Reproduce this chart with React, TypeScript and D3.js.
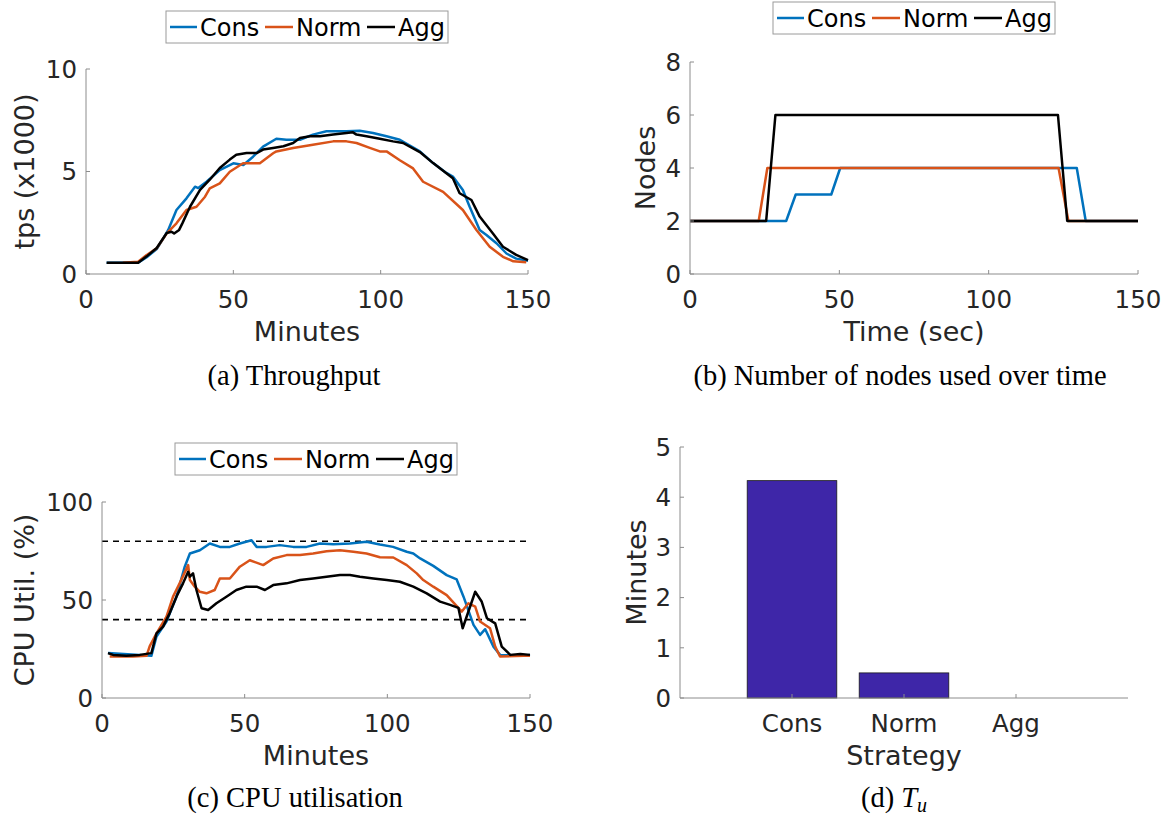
import React from 'react';
import * as d3 from 'd3';

const strategies = ['Cons', 'Norm', 'Agg'];
const colors = ['#0072BD', '#D95319', '#000000'];

// (a) throughput, tps x1000 vs minutes
const tpsCons = [[7,0.55],[17.7,0.55],[20.6,0.82],[24,1.22],[26.5,1.8],[27.9,2.15],[30.7,3.12],[34.1,3.69],[37,4.26],[38.1,4.19],[40.9,4.5],[45.4,5.07],[50,5.4],[53.4,5.32],[56.7,5.72],[60.1,6.21],[64.6,6.6],[68,6.55],[72.6,6.55],[77,6.8],[81.6,6.96],[88.4,6.96],[92.9,6.99],[97.4,6.88],[102,6.72],[106.5,6.55],[113.3,5.98],[117.8,5.41],[122.3,4.93],[124.5,4.75],[127.9,4.1],[130.2,3.28],[133.6,2.15],[135.9,1.9],[139.3,1.5],[142.7,1.0],[146,0.75],[150,0.65]];
const tpsNorm = [[12.5,0.55],[17.7,0.6],[20.6,0.93],[24,1.25],[27.4,1.98],[30.7,2.47],[34.1,3.12],[37.5,3.28],[40.4,3.77],[42,4.18],[45.4,4.42],[48.8,4.99],[53.3,5.4],[59,5.4],[63.5,5.89],[64.6,5.98],[70.3,6.15],[77,6.31],[83.9,6.47],[88.4,6.47],[91.8,6.39],[96.3,6.15],[99.7,5.98],[102,5.98],[106.5,5.55],[111,5.15],[114.4,4.5],[121.2,4.01],[127.9,3.12],[132.5,2.15],[137,1.33],[141.5,0.84],[145,0.62],[149.4,0.57]];
const tpsAgg = [[7,0.55],[17.7,0.55],[20.6,0.86],[24,1.27],[27.4,2.0],[29,2.06],[29.9,1.98],[31.6,2.15],[32.7,2.47],[35.3,3.28],[38.7,4.1],[42,4.6],[45.4,5.17],[48.8,5.58],[51,5.82],[54.5,5.9],[57.9,5.9],[60.1,6.07],[63.5,6.15],[67,6.23],[70.3,6.39],[72.6,6.63],[76,6.72],[79.4,6.72],[83.9,6.8],[88.4,6.88],[90.6,6.91],[91.8,6.8],[95.2,6.72],[99.7,6.6],[104.2,6.47],[107.6,6.39],[113.3,5.95],[117.8,5.41],[122.3,4.92],[124.5,4.67],[126.8,3.94],[130.8,3.61],[133.6,2.8],[138.1,1.98],[141.5,1.33],[146,0.93],[150,0.68]];

// (b) nodes vs time
const nodesCons = [[0,2],[32.2,2],[35.4,3],[47.3,3],[50.3,4],[129.5,4],[132.5,2],[150,2]];
const nodesNorm = [[0,2],[23,2],[25.9,4],[123.4,4],[126.7,2],[150,2]];
const nodesAgg = [[0,2],[25.5,2],[28.6,6],[123.2,6],[126.3,2],[150,2]];

// (c) cpu utilisation %
const cpuCons = [[2.1,22.9],[17.3,21.5],[19.1,31.4],[22.6,39],[26.1,51.7],[29,67],[30.8,73.7],[34.3,75.4],[37.8,78.8],[41.3,77.1],[44.8,77.1],[48.3,78.8],[52.4,80.5],[54.2,77.1],[57.7,77.1],[62.3,78],[67,77.1],[71.7,77.1],[76.4,78.8],[81,78.5],[86.9,78.8],[92.7,79.7],[97.4,78.3],[102,77.1],[106.8,74.6],[109.1,73.7],[111.5,71.2],[116.1,67.4],[120.8,62.7],[124.3,60.5],[126.7,51.7],[130.2,37.3],[132.5,32.2],[134.3,35.1],[137.2,26.2],[139.5,22],[147.2,21.5],[150,22]];
const cpuNorm = [[2.7,21.2],[10.9,21.2],[15.6,21.5],[16.7,26.3],[19.1,33],[22.6,41.5],[24.9,51.7],[27.2,58.5],[30.2,67.8],[30.8,60.2],[32.5,56.8],[34.3,54.2],[36.6,53.4],[39.5,55.1],[41.3,61],[44.8,61],[48.3,67],[51.8,70.3],[56.5,67.8],[60,71.2],[64.7,72.9],[69.4,72.9],[74,73.7],[78.7,74.9],[83.4,75.4],[88.1,74.6],[92.7,73.7],[97.4,71.8],[102.1,71.7],[106.8,67.8],[110.3,63.6],[112.6,60.2],[116.1,56.8],[120.8,52.5],[126.1,44.1],[128.4,48.3],[130.8,46.6],[132.5,39],[136,35.6],[137.8,26.2],[139.5,21.2],[147.7,21.5],[150,21.5]];
const cpuAgg = [[2.1,22.9],[3.9,22],[8.5,21.5],[13.2,22],[17.3,22.9],[17.9,26.3],[19.1,33],[21.4,36.4],[23.7,43.2],[26.1,51.7],[28.4,58.5],[30.2,64.4],[30.8,61.9],[31.9,63.6],[33.1,55.1],[34.9,45.8],[37.2,44.9],[40.1,48.3],[43.6,51.7],[47.1,55.1],[50.6,56.8],[54.2,56.8],[57.1,55.1],[60,57.6],[64.7,58.5],[69.4,60.2],[74,61],[78.7,61.9],[83.4,62.7],[86.9,62.7],[90.4,61.9],[95.1,61],[99.8,60.2],[104.4,59.3],[109.1,56.8],[113.8,53.4],[118.5,49.2],[122,47.5],[124.9,46],[126.4,35.6],[130.8,54.2],[133.1,49.1],[134.9,40.7],[137.8,38.1],[140.1,26.2],[143.1,22],[146.6,22.5],[150,22]];
const cpuThresholds = [80, 40];

// (d) T_u in minutes
const tuValues = [4.33, 0.5, 0];

const SANS = 'DejaVu Sans, sans-serif';
const SERIF = 'Liberation Serif, DejaVu Serif, serif';
const AXIS = '#8c8c8c';
const TEXT = '#262626';
const TICK_FS = 24.5;
const LABEL_FS = 27;
const CAP_FS = 28.5;
const LW = 2.5;

function Legend({ cx, y }) {
    const lines = [[-137, -110], [-42, -14], [60, 88]];
    const texts = [-107, -11, 91];
    return (
        <g transform={`translate(${cx}, ${y})`}>
            <rect x={-141} y={0} width={282} height={32} fill="white" stroke="#9a9a9a" strokeWidth="1" />
            {strategies.map((s, i) => (
                <g key={s}>
                    <line x1={lines[i][0]} x2={lines[i][1]} y1={16} y2={16} stroke={colors[i]} strokeWidth={LW} />
                    <text x={texts[i]} y={25} fontFamily={SANS} fontSize="24" fill="#000">{s}</text>
                </g>
            ))}
        </g>
    );
}

function LinePanel(props) {
    const { left, right, top, bottom, xMax, yMax, xTicks, yTicks, series, xLabel, yLabel, yLabelX, legendY, dashed } = props;
    const x = d3.scaleLinear().domain([0, xMax]).range([left, right]);
    const y = d3.scaleLinear().domain([0, yMax]).range([bottom, top]);
    const line = d3.line().x(d => x(d[0])).y(d => y(d[1]));

    return (
        <g>
            {(dashed || []).map(v => (
                <line key={v} x1={left} x2={right} y1={y(v)} y2={y(v)} stroke="#000" strokeWidth="1.6" strokeDasharray="6,5" />
            ))}
            {series.map((s, i) => (
                <path key={i} d={line(s)} fill="none" stroke={colors[i]} strokeWidth={LW} strokeLinejoin="round" />
            ))}
            <line x1={left} x2={left} y1={top} y2={bottom} stroke={AXIS} strokeWidth="1" />
            <line x1={left} x2={right} y1={bottom} y2={bottom} stroke={AXIS} strokeWidth="1" />
            {yTicks.map(t => (
                <g key={t}>
                    <line x1={left} x2={left + 4} y1={y(t)} y2={y(t)} stroke={AXIS} />
                    <text x={left - 9} y={y(t)} dy="0.36em" textAnchor="end" fontFamily={SANS} fontSize={TICK_FS} fill={TEXT}>{t}</text>
                </g>
            ))}
            {xTicks.map(t => (
                <g key={t}>
                    <line x1={x(t)} x2={x(t)} y1={bottom} y2={bottom - 4} stroke={AXIS} />
                    <text x={x(t)} y={bottom + 34} textAnchor="middle" fontFamily={SANS} fontSize={TICK_FS} fill={TEXT}>{t}</text>
                </g>
            ))}
            <text x={(left + right) / 2} y={bottom + 67} textAnchor="middle" fontFamily={SANS} fontSize={LABEL_FS} fill={TEXT}>{xLabel}</text>
            <text transform={`translate(${yLabelX}, ${(top + bottom) / 2}) rotate(-90)`} textAnchor="middle" fontFamily={SANS} fontSize={LABEL_FS} fill={TEXT}>{yLabel}</text>
            <Legend cx={(left + right) / 2} y={legendY} />
        </g>
    );
}

function BarPanel() {
    const left = 680, right = 1128, top = 447, bottom = 698;
    const x = d3.scaleLinear().domain([0, 4]).range([left, right]);
    const y = d3.scaleLinear().domain([0, 5]).range([bottom, top]);
    const bw = x(0.8) - x(0);
    return (
        <g>
            {tuValues.map((v, i) => (
                <rect key={i} x={x(i + 1) - bw / 2} y={y(v)} width={bw} height={bottom - y(v)}
                    fill="#3E26A8" stroke="#1a1a1a" strokeWidth="0.8" />
            ))}
            <line x1={left} x2={left} y1={top} y2={bottom} stroke={AXIS} />
            <line x1={left} x2={right} y1={bottom} y2={bottom} stroke={AXIS} />
            {y.ticks(5).map(t => (
                <g key={t}>
                    <line x1={left} x2={left + 4} y1={y(t)} y2={y(t)} stroke={AXIS} />
                    <text x={left - 9} y={y(t)} dy="0.36em" textAnchor="end" fontFamily={SANS} fontSize={TICK_FS} fill={TEXT}>{t}</text>
                </g>
            ))}
            {strategies.map((s, i) => (
                <g key={s}>
                    <line x1={x(i + 1)} x2={x(i + 1)} y1={bottom} y2={bottom - 4} stroke={AXIS} />
                    <text x={x(i + 1)} y={bottom + 34} textAnchor="middle" fontFamily={SANS} fontSize={TICK_FS} fill={TEXT}>{s}</text>
                </g>
            ))}
            <text x={(left + right) / 2} y={bottom + 67} textAnchor="middle" fontFamily={SANS} fontSize={LABEL_FS} fill={TEXT}>Strategy</text>
            <text transform={`translate(646, ${(top + bottom) / 2}) rotate(-90)`} textAnchor="middle" fontFamily={SANS} fontSize={LABEL_FS} fill={TEXT}>Minutes</text>
        </g>
    );
}

export default function App() {
    return (
        <svg width={1172} height={818} style={{ position: 'absolute', left: 0, top: 0, background: 'white' }}>
            <LinePanel left={86} right={528} top={69} bottom={274} xMax={150} yMax={10}
                xTicks={[0, 50, 100, 150]} yTicks={[0, 5, 10]} series={[tpsCons, tpsNorm, tpsAgg]}
                xLabel="Minutes" yLabel="tps (x1000)" yLabelX={34} legendY={11} />
            <LinePanel left={690} right={1138} top={62} bottom={274} xMax={150} yMax={8}
                xTicks={[0, 50, 100, 150]} yTicks={[0, 2, 4, 6, 8]} series={[nodesCons, nodesNorm, nodesAgg]}
                xLabel="Time (sec)" yLabel="Nodes" yLabelX={655} legendY={2} />
            <LinePanel left={102} right={530} top={502} bottom={698} xMax={150} yMax={100}
                xTicks={[0, 50, 100, 150]} yTicks={[0, 50, 100]} series={[cpuCons, cpuNorm, cpuAgg]}
                xLabel="Minutes" yLabel="CPU Util. (%)" yLabelX={34} legendY={443} dashed={cpuThresholds} />
            <BarPanel />
            <text x={294} y={385} textAnchor="middle" fontFamily={SERIF} fontSize={CAP_FS} fill="#000">(a) Throughput</text>
            <text x={900} y={385} textAnchor="middle" fontFamily={SERIF} fontSize={CAP_FS} fill="#000">(b) Number of nodes used over time</text>
            <text x={295} y={807} textAnchor="middle" fontFamily={SERIF} fontSize={CAP_FS} fill="#000">(c) CPU utilisation</text>
            <text x={894} y={807} textAnchor="middle" fontFamily={SERIF} fontSize={CAP_FS} fill="#000">
                (d) <tspan fontStyle="italic">T</tspan><tspan fontStyle="italic" fontSize="20" dy="5">u</tspan>
            </text>
        </svg>
    );
}
